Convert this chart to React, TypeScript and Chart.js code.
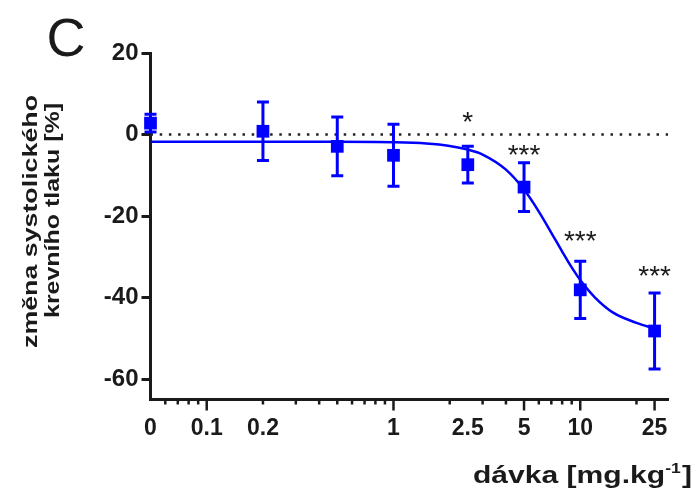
import { useEffect, useRef } from 'react';
import { Chart, registerables } from 'chart.js';

Chart.register(...registerables);

// ---- data ----
const doses = [0, 0.2, 0.5, 1, 2.5, 5, 10, 25];
const meanChange = [2.8, 0.8, -2.9, -5.1, -7.4, -12.9, -38.1, -48.2];
const semChange = [2.2, 7.2, 7.2, 7.6, 4.5, 6.0, 7.0, 9.3];

const fitDoses = [0.05, 0.1, 0.2, 0.5, 1, 1.5, 2, 2.5, 3, 4, 5, 6, 7, 8, 9, 10, 12, 15, 20, 25];
const fitChange = [-1.8, -1.8, -1.8, -1.8, -1.9, -2.2, -2.8, -3.7, -4.9, -8.6, -13.5, -18.9, -24.1, -28.7, -32.6, -35.7, -40.0, -43.7, -46.2, -47.6];

const sigDoses = [2.5, 5, 10, 25];
const sigMarks = ['*', '***', '***', '***'];
const sigLevels = [4.4, -3.9, -25, -33.6];

const yTicks = [-60, -40, -20, 0, 20];
const xTickValues = [0.05, 0.06, 0.07, 0.08, 0.09, 0.1, 0.2, 0.3, 0.4, 0.5, 0.6, 0.7, 0.8, 0.9, 1, 2, 2.5, 3, 4, 5, 6, 7, 8, 9, 10, 20, 25];
const xTickLabels = ['0', '', '', '', '', '0.1', '0.2', '', '', '', '', '', '', '', '1', '', '2.5', '', '', '5', '', '', '', '', '10', '', '25'];
const xMajorTicks = [0.1, 1, 5, 10, 25];
const xUnmarkedTicks = [0.05, 2.5];

const zeroDoseAt = 0.05;
const xMin = 0.05;
const xMax = 29.5;
const yMin = -65;
const yMax = 20;

const BLUE = '#0000ff';
const INK = '#1a1a1a';
const FONT = "'Liberation Sans', Arial, Helvetica, sans-serif";

const plotX = (d: number) => (d === 0 ? zeroDoseAt : d);

const overlayPlugin = {
  id: 'overlay',
  beforeDatasetDraw(chart: any, args: any) {
    if (args.index !== 0) return;
    const { ctx, scales } = chart;
    const xs = scales.x;
    const ys = scales.y;
    ctx.save();
    ctx.strokeStyle = BLUE;
    ctx.lineWidth = 3;
    ctx.lineCap = 'butt';
    doses.forEach((d, i) => {
      const px = xs.getPixelForValue(plotX(d));
      const top = ys.getPixelForValue(meanChange[i] + semChange[i]);
      const bot = ys.getPixelForValue(meanChange[i] - semChange[i]);
      ctx.beginPath();
      ctx.moveTo(px, top);
      ctx.lineTo(px, bot);
      ctx.moveTo(px - 6, top);
      ctx.lineTo(px + 6, top);
      ctx.moveTo(px - 6, bot);
      ctx.lineTo(px + 6, bot);
      ctx.stroke();
    });
    ctx.restore();
  },
  afterDraw(chart: any) {
    const { ctx, scales, chartArea } = chart;
    const xs = scales.x;
    const ys = scales.y;
    ctx.save();
    // x tick marks
    ctx.strokeStyle = INK;
    ctx.lineWidth = 2.5;
    xTickValues.forEach((v) => {
      if (xUnmarkedTicks.includes(v)) return;
      const px = xs.getPixelForValue(v);
      const len = xMajorTicks.includes(v) ? 11 : 5;
      ctx.beginPath();
      ctx.moveTo(px, chartArea.bottom);
      ctx.lineTo(px, chartArea.bottom + len);
      ctx.stroke();
    });

    // significance marks
    ctx.fillStyle = INK;
    ctx.font = `28px ${FONT}`;
    ctx.textAlign = 'center';
    ctx.textBaseline = 'alphabetic';
    sigDoses.forEach((d, i) => {
      const px = xs.getPixelForValue(d);
      const py = ys.getPixelForValue(sigLevels[i]);
      const m = ctx.measureText(sigMarks[i]);
      const mid = (m.actualBoundingBoxAscent - m.actualBoundingBoxDescent) / 2;
      ctx.fillText(sigMarks[i], px, py + mid);
    });

    // panel letter
    ctx.font = `54px ${FONT}`;
    ctx.textAlign = 'left';
    ctx.fillText('C', 46.5, 55.5);

    // y title (two stretched lines)
    ctx.font = `bold 20.5px ${FONT}`;
    const yLines = [
      { text: 'změna systolického', base: 36.5, cy: 221.5, len: 253 },
      { text: 'krevního tlaku [%]', base: 58.5, cy: 210.5, len: 215 },
    ];
    yLines.forEach((l) => {
      const w = ctx.measureText(l.text).width;
      ctx.save();
      ctx.translate(l.base, l.cy);
      ctx.rotate(-Math.PI / 2);
      ctx.scale(l.len / w, 1);
      ctx.textAlign = 'center';
      ctx.fillText(l.text, 0, 0);
      ctx.restore();
    });

    // x title with superscript
    const mainFont = `bold 24px ${FONT}`;
    const supFont = `bold 14px ${FONT}`;
    const partA = 'dávka [mg.kg';
    const partSup = '-1';
    const partB = ']';
    ctx.font = mainFont;
    const wA = ctx.measureText(partA).width;
    const wB = ctx.measureText(partB).width;
    ctx.font = supFont;
    const wS = ctx.measureText(partSup).width;
    const total = wA + wS + wB + 1;
    const sx = 219 / total;
    ctx.save();
    ctx.translate(473, 482.5);
    ctx.scale(sx, 1);
    ctx.textAlign = 'left';
    ctx.font = mainFont;
    ctx.fillText(partA, 0, 0);
    ctx.font = supFont;
    ctx.fillText(partSup, wA, -10);
    ctx.font = mainFont;
    ctx.fillText(partB, wA + wS + 1, 0);
    ctx.restore();

    ctx.restore();
  },
};

export default function App() {
  const ref = useRef<HTMLCanvasElement | null>(null);

  useEffect(() => {
    if (!ref.current) return;
    const chart = new Chart(ref.current, {
      type: 'line',
      data: {
        datasets: [
          {
            type: 'scatter',
            label: 'mean',
            data: doses.map((d, i) => ({ x: plotX(d), y: meanChange[i] })),
            pointStyle: 'rect',
            pointRadius: 9,
            pointBorderWidth: 0,
            backgroundColor: BLUE,
            borderColor: BLUE,
            showLine: false,
            clip: false,
          } as any,
          {
            type: 'line',
            label: 'fit',
            data: fitDoses.map((d, i) => ({ x: d, y: fitChange[i] })),
            borderColor: BLUE,
            borderWidth: 2.5,
            pointRadius: 0,
            cubicInterpolationMode: 'monotone',
            fill: false,
          },
          {
            type: 'line',
            label: 'zero',
            data: [
              { x: xMin, y: 0 },
              { x: xMax, y: 0 },
            ],
            borderColor: '#222',
            borderWidth: 2.5,
            borderDash: [2.5, 6.7],
            pointRadius: 0,
            fill: false,
          },
        ],
      },
      options: {
        animation: false,
        responsive: false,
        events: [],
        layout: { padding: { top: 53, right: 28, left: 0, bottom: 0 } },
        plugins: {
          legend: { display: false },
          tooltip: { enabled: false },
        },
        scales: {
          x: {
            type: 'logarithmic',
            min: xMin,
            max: xMax,
            afterBuildTicks: (s: any) => {
              s.ticks = xTickValues.map((v) => ({ value: v }));
            },
            afterFit: (s: any) => {
              s.height = 491 - 399.5;
            },
            grid: { display: true, drawOnChartArea: false, drawTicks: false, color: 'rgba(0,0,0,0)' },
            border: { display: true, color: INK, width: 3 },
            ticks: {
              autoSkip: false,
              maxRotation: 0,
              padding: 15,
              color: INK,
              font: { family: FONT, size: 23, weight: 'bold' },
              callback: (v: any) => {
                const i = xTickValues.indexOf(Number(v));
                return i >= 0 ? xTickLabels[i] : '';
              },
            },
          },
          y: {
            type: 'linear',
            min: yMin,
            max: yMax,
            afterBuildTicks: (s: any) => {
              s.ticks = yTicks.map((v) => ({ value: v }));
            },
            afterFit: (s: any) => {
              s.width = 150.5;
            },
            grid: { display: true, drawOnChartArea: false, drawTicks: true, tickLength: 9, tickWidth: 3, tickColor: INK },
            border: { display: true, color: INK, width: 3 },
            ticks: {
              padding: 3,
              color: INK,
              font: { family: FONT, size: 24, weight: 'bold' },
              callback: (v: any) => String(v),
            },
          },
        },
      },
      plugins: [overlayPlugin],
    });
    return () => chart.destroy();
  }, []);

  return (
    <div style={{ position: 'absolute', left: 0, top: 0, width: 696, height: 491, background: '#fff' }}>
      <canvas ref={ref} width={696} height={491} style={{ display: 'block' }} />
    </div>
  );
}
